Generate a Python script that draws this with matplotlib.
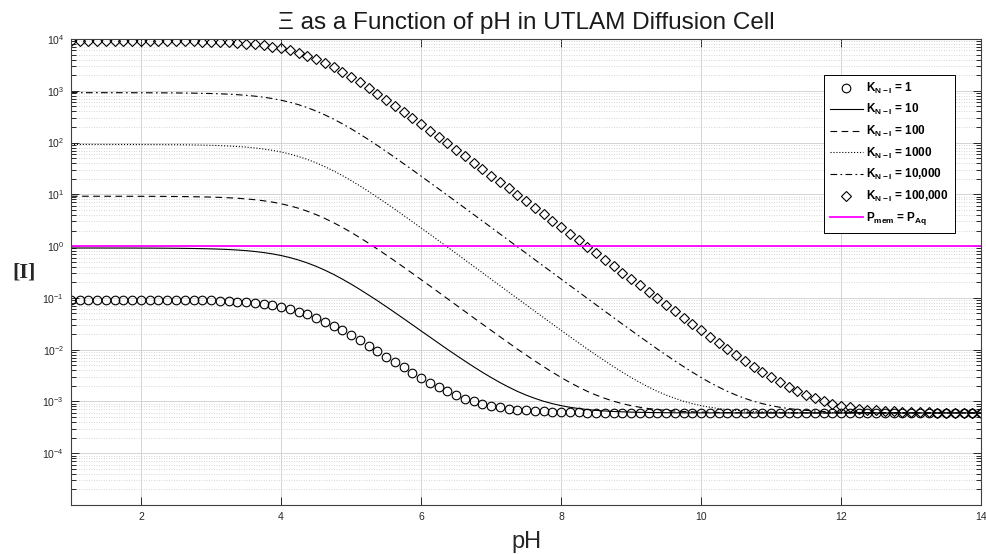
import numpy as np
import matplotlib
matplotlib.use('Agg')
import matplotlib.pyplot as plt
from matplotlib.ticker import LogLocator, FixedLocator, NullFormatter

plt.rcParams['font.family'] = ['Liberation Sans', 'DejaVu Sans']
plt.rcParams['mathtext.fontset'] = 'custom'
plt.rcParams['mathtext.rm'] = 'Liberation Sans'
plt.rcParams['mathtext.bf'] = 'Liberation Sans:bold'

# pH grid the markers sit on (1 to 14, step 0.125)
pH = np.linspace(1, 14, 105)

# Xi, one list per K_N-I
xi_k1 = ([0.0926, 0.0926, 0.0925, 0.0925, 0.0925, 0.0924, 0.0924, 0.0923,
          0.0922, 0.0921, 0.0920, 0.0917, 0.0915, 0.0911, 0.0906, 0.0899,
          0.0891, 0.0880, 0.0865, 0.0847, 0.0823, 0.0794, 0.0758, 0.0715,
          0.0664, 0.0607, 0.0545, 0.0479, 0.0413, 0.0349, 0.0290, 0.0237,
          0.0191, 0.0152, 0.0120, 0.00941, 0.00737, 0.00577, 0.00453, 0.00358,
          0.00285, 0.00230, 0.00188, 0.00156, 0.00133, 0.00114, 0.00101, 0.000907,
          0.000831, 0.000773, 0.000730, 0.000697, 0.000673, 0.000655, 0.000641, 0.000631,
          0.000623, 0.000617, 0.000613, 0.000610, 0.000607, 0.000605, 0.000604, 0.000603,
          0.000602, 0.000602, 0.000601, 0.000601, 0.000601, 0.0006, 0.0006, 0.0006]
         + [0.0006] * 33)

xi_k10 = ([0.920, 0.920, 0.920, 0.920, 0.919, 0.919, 0.919, 0.918,
           0.917, 0.916, 0.914, 0.912, 0.909, 0.905, 0.900, 0.894,
           0.885, 0.874, 0.860, 0.841, 0.818, 0.788, 0.752, 0.709,
           0.659, 0.602, 0.539, 0.474, 0.408, 0.344, 0.285, 0.231,
           0.185, 0.146, 0.114, 0.0887, 0.0683, 0.0523, 0.0399, 0.0304,
           0.0231, 0.0176, 0.0134, 0.0102, 0.00785, 0.00605, 0.00469, 0.00367,
           0.00291, 0.00233, 0.00190, 0.00157, 0.00133, 0.00115, 0.00101, 0.000908,
           0.000831, 0.000773, 0.000730, 0.000697, 0.000673, 0.000655, 0.000641, 0.000631,
           0.000623, 0.000617, 0.000613, 0.000610, 0.000607, 0.000605, 0.000604, 0.000603,
           0.000602, 0.000602, 0.000601, 0.000601, 0.000601, 0.0006, 0.0006, 0.0006]
          + [0.0006] * 25)

xi_k100 = ([9.20, 9.20, 9.19, 9.19, 9.19, 9.18, 9.18, 9.17,
            9.16, 9.15, 9.14, 9.11, 9.09, 9.05, 9.00, 8.93,
            8.85, 8.74, 8.59, 8.41, 8.17, 7.88, 7.52, 7.09,
            6.58, 6.01, 5.39, 4.73, 4.07, 3.43, 2.84, 2.31,
            1.85, 1.46, 1.14, 0.882, 0.678, 0.518, 0.394, 0.299,
            0.226, 0.171, 0.129, 0.0970, 0.0731, 0.0551, 0.0415, 0.0313,
            0.0237, 0.0179, 0.0136, 0.0103, 0.00790, 0.00608, 0.00471, 0.00368,
            0.00291, 0.00233, 0.00190, 0.00157, 0.00133, 0.00115, 0.00101, 0.000908,
            0.000831, 0.000773, 0.000730, 0.000697, 0.000673, 0.000655, 0.000641, 0.000631,
            0.000623, 0.000617, 0.000613, 0.000610, 0.000607, 0.000605, 0.000604, 0.000603,
            0.000602, 0.000602, 0.000601, 0.000601, 0.000601, 0.0006, 0.0006, 0.0006]
           + [0.0006] * 17)

xi_k1000 = ([92.0, 92.0, 91.9, 91.9, 91.9, 91.8, 91.8, 91.7,
             91.6, 91.5, 91.4, 91.1, 90.9, 90.5, 90.0, 89.3,
             88.5, 87.4, 85.9, 84.1, 81.7, 78.8, 75.2, 70.9,
             65.8, 60.1, 53.9, 47.3, 40.7, 34.3, 28.4, 23.1,
             18.5, 14.6, 11.4, 8.81, 6.77, 5.17, 3.93, 2.98,
             2.25, 1.70, 1.28, 0.965, 0.726, 0.545, 0.410, 0.308,
             0.231, 0.173, 0.130, 0.0979, 0.0736, 0.0554, 0.0417, 0.0314,
             0.0237, 0.0179, 0.0136, 0.0103, 0.00791, 0.00608, 0.00471, 0.00368,
             0.00291, 0.00233, 0.00190, 0.00157, 0.00133, 0.00115, 0.00101, 0.000908,
             0.000831, 0.000773, 0.000730, 0.000697, 0.000673, 0.000655, 0.000641, 0.000631,
             0.000623, 0.000617, 0.000613, 0.000610, 0.000607, 0.000605, 0.000604, 0.000603,
             0.000602, 0.000602, 0.000601, 0.000601, 0.000601, 0.0006, 0.0006, 0.0006]
            + [0.0006] * 9)

xi_k10000 = [920, 920, 919, 919, 919, 918, 918, 917,
             916, 915, 914, 911, 909, 905, 900, 893,
             885, 874, 859, 841, 817, 788, 752, 709,
             658, 601, 539, 473, 407, 343, 284, 231,
             185, 146, 114, 88.1, 67.7, 51.7, 39.3, 29.8,
             22.5, 17.0, 12.8, 9.64, 7.25, 5.45, 4.09, 3.07,
             2.31, 1.73, 1.30, 0.974, 0.731, 0.548, 0.411, 0.309,
             0.232, 0.174, 0.131, 0.0980, 0.0737, 0.0554, 0.0417, 0.0314,
             0.0237, 0.0179, 0.0136, 0.0103, 0.00791, 0.00608, 0.00471, 0.00368,
             0.00291, 0.00233, 0.00190, 0.00157, 0.00133, 0.00115, 0.00101, 0.000908,
             0.000831, 0.000773, 0.000730, 0.000697, 0.000673, 0.000655, 0.000641, 0.000631,
             0.000623, 0.000617, 0.000613, 0.000610, 0.000607, 0.000605, 0.000604, 0.000603,
             0.000602, 0.000602, 0.000601, 0.000601, 0.000601, 0.0006, 0.0006, 0.0006,
             0.0006]

xi_k100000 = [9196, 9195, 9194, 9192, 9188, 9184, 9180, 9172,
              9164, 9151, 9135, 9114, 9086, 9048, 8999, 8933,
              8848, 8736, 8592, 8406, 8171, 7877, 7517, 7085,
              6581, 6009, 5386, 4732, 4073, 3434, 2840, 2309,
              1847, 1458, 1139, 881, 677, 517, 393, 298,
              225, 170, 128, 96.4, 72.5, 54.5, 40.9, 30.7,
              23.1, 17.3, 13.0, 9.73, 7.30, 5.48, 4.11, 3.08,
              2.31, 1.73, 1.30, 0.975, 0.731, 0.549, 0.412, 0.309,
              0.232, 0.174, 0.131, 0.0980, 0.0737, 0.0554, 0.0417, 0.0314,
              0.0237, 0.0179, 0.0136, 0.0103, 0.00791, 0.00608, 0.00471, 0.00368,
              0.00291, 0.00233, 0.00190, 0.00157, 0.00133, 0.00115, 0.00101, 0.000908,
              0.000831, 0.000773, 0.000730, 0.000697, 0.000673, 0.000655, 0.000641, 0.000631,
              0.000623, 0.000617, 0.000613, 0.000610, 0.000607, 0.000605, 0.000604, 0.000603,
              0.000602]

p_ratio = 1.0  # P_mem = P_Aq reference level

labels = [r'$\mathbf{K_{N-I}}$ = 1', r'$\mathbf{K_{N-I}}$ = 10',
          r'$\mathbf{K_{N-I}}$ = 100', r'$\mathbf{K_{N-I}}$ = 1000',
          r'$\mathbf{K_{N-I}}$ = 10,000', r'$\mathbf{K_{N-I}}$ = 100,000',
          r'$\mathbf{P_{mem}}$ = $\mathbf{P_{Aq}}$']

fig = plt.figure(figsize=(9.86, 5.54), dpi=100)
ax = fig.add_axes([0.072, 0.0884, 0.923, 0.8412])

ax.plot(pH, xi_k1, 'o', ms=6.2, mfc='none', mec='k', mew=0.8, label=labels[0])
ax.plot(pH, xi_k10, '-', color='k', lw=0.8, label=labels[1])
ax.plot(pH, xi_k100, '--', color='k', lw=0.8, dashes=(6, 4), label=labels[2])
ax.plot(pH, xi_k1000, ':', color='k', lw=0.8, label=labels[3])
ax.plot(pH, xi_k10000, '-.', color='k', lw=0.8, dashes=(6, 3, 1.5, 3), label=labels[4])
ax.plot(pH, xi_k100000, 'D', ms=5.0, mfc='none', mec='k', mew=0.8, label=labels[5])
ax.axhline(p_ratio, color='#ff00ff', lw=1.3, label=labels[6])

ax.set_yscale('log')
ax.set_xlim(1, 14)
ax.set_ylim(1e-5, 1e4)
ax.set_xticks([2, 4, 6, 8, 10, 12, 14])
ax.yaxis.set_major_locator(FixedLocator([10.0 ** k for k in range(-4, 5)]))
ax.yaxis.set_minor_locator(LogLocator(base=10, subs=np.arange(2, 10), numticks=20))
ax.yaxis.set_minor_formatter(NullFormatter())

ax.grid(True, which='major', color='#d4d4d4', lw=0.7, ls='-')
ax.grid(True, which='minor', axis='y', color='#c8c8c8', lw=0.6, ls=(0, (1, 2)))
ax.set_axisbelow(True)

ax.tick_params(which='both', direction='in', top=True, right=True,
               colors='#262626', labelcolor='#262626', labelsize=7.5, width=0.7)
ax.tick_params(which='major', length=6, pad=5)
ax.tick_params(which='minor', length=3.5)
for s in ax.spines.values():
    s.set_color('#404040')
    s.set_linewidth(0.8)

ax.set_title('Ξ as a Function of pH in UTLAM Diffusion Cell', fontsize=17.5,
             color='#1a1a1a', pad=7)
ax.set_xlabel('pH', fontsize=17, color='#262626')
ax.xaxis.set_label_coords(0.5, -0.055)
ax.set_ylabel('[I]', rotation=0, fontsize=16, weight='bold',
              family=['Liberation Serif', 'DejaVu Serif'],
              color='#262626', va='center', ha='center')
ax.yaxis.set_label_coords(-0.052, 0.5)

leg = ax.legend(loc='upper right', bbox_to_anchor=(0.971, 0.923),
                prop={'weight': 'bold', 'size': 8.5}, frameon=True, fancybox=False,
                edgecolor='k', framealpha=1, handlelength=2.8, handletextpad=0.3,
                labelspacing=0.55, borderpad=0.5, borderaxespad=0)
leg.get_frame().set_linewidth(0.7)

fig.savefig('out.png', dpi=100)
